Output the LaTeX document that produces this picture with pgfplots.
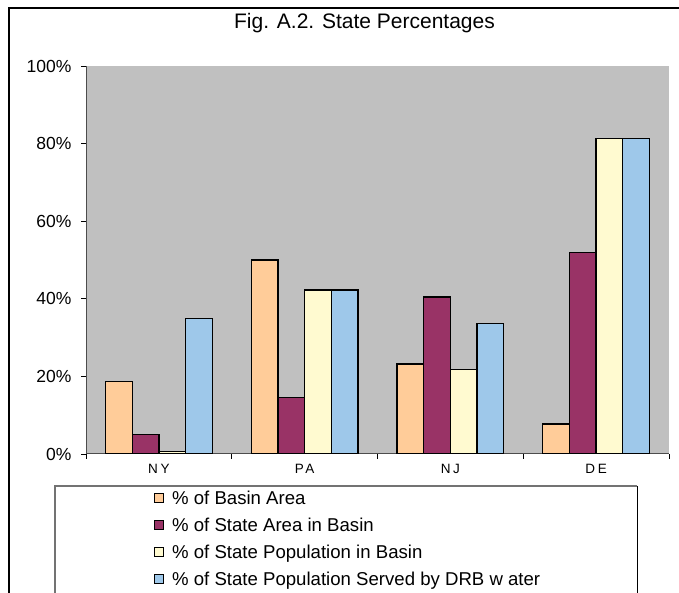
\documentclass[border=0pt]{standalone}
\usepackage{pgfplots}
\pgfplotsset{compat=1.18}
\usepackage{fontspec}
\setmainfont{Liberation Sans}
\definecolor{cOrange}{RGB}{255,204,153}
\definecolor{cPurple}{RGB}{153,51,102}
\definecolor{cYellow}{RGB}{255,250,208}
\definecolor{cBlue}{RGB}{158,200,234}
\definecolor{cGray}{RGB}{192,192,192}
\begin{document}
\begin{tikzpicture}[x=1bp,y=1bp]
\useasboundingbox (0,0) rectangle (679,593);
\draw[black, line width=1.2bp] (9,-2) -- (9,585) -- (681,585);
\draw[black!55, line width=1.2bp] (55,-2) -- (55,107) -- (637,107);
\draw[black, line width=0.8bp] (637,107) -- (637,-2);
\node[font=\fontsize{21bp}{24bp}\selectfont] at (364.5,570) {Fig. A.2. State Percentages};
\begin{axis}[
  at={(86bp,139bp)}, anchor=south west,
  scale only axis, width=583bp, height=388bp,
  axis background/.style={fill=cGray},
  ymin=0, ymax=100, xmin=-0.5, xmax=3.5,
  axis x line*=bottom, axis y line*=left,
  axis line style={-, draw=black!70, line width=1bp},
  tick align=outside, major tick length=5bp,
  tick style={black, line width=0.8bp},
  ytick={0,20,...,100},
  yticklabels={0\%,20\%,40\%,60\%,80\%,100\%},
  yticklabel style={font=\fontsize{17.5bp}{19bp}\selectfont, xshift=-6bp},
  xtick={-0.5,0.5,1.5,2.5,3.5}, xticklabels={},
  extra x ticks={0,1,2,3},
  extra x tick labels={NY,PA,NJ,DE},
  extra x tick style={major tick length=0bp, tick style={draw=none},
    xticklabel style={font=\fontsize{13.5bp}{15bp}\selectfont\addfontfeature{LetterSpace=20}, yshift=-7bp}},
  ybar=0bp, bar width=26.7bp,
  every axis plot/.append style={draw=black, line width=1.3bp},
  legend style={at={(0.1166,-0.0980)}, anchor=north west, draw=none, fill=none,
    font=\fontsize{18.6bp}{20bp}\selectfont, inner sep=0pt, row sep=12bp,
    nodes={inner sep=0pt, text height=12bp, text depth=3bp},
    column sep=8bp},
  legend cell align=left,
  legend image code/.code={\draw[#1, line width=1bp] (0bp,-3bp) rectangle (9bp,6bp);},
]
\addplot[fill=cOrange] coordinates {(0,18.6) (1,50.0) (2,23.2) (3,7.7)};
\addplot[fill=cPurple] coordinates {(0,5.0) (1,14.5) (2,40.5) (3,51.9)};
\addplot[fill=cYellow] coordinates {(0,0.6) (1,42.3) (2,21.8) (3,81.4)};
\addplot[fill=cBlue] coordinates {(0,35.0) (1,42.3) (2,33.7) (3,81.4)};
\legend{\% of Basin Area,\% of State Area in Basin,\% of State Population in Basin,\% of State Population Served by DRB w ater}
\end{axis}
\end{tikzpicture}
\end{document}
